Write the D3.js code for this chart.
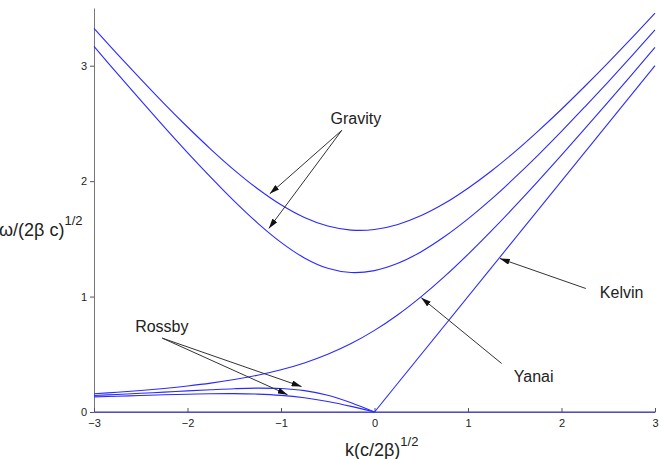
<!DOCTYPE html>
<html>
<head>
<meta charset="utf-8">
<script src="https://cdn.jsdelivr.net/npm/d3@7"></script>
<style>
  body { margin: 0; background: #fff; }
  text { font-family: 'Liberation Sans', Arial, sans-serif; fill: #222; }
</style>
</head>
<body>
<div id="chart"></div>
<script>
// wavenumber samples k(c/2β)^1/2
const kAll = [-3, -2.75, -2.5, -2.25, -2, -1.75, -1.5, -1.25, -1, -0.75, -0.5, -0.25, 0,
  0.25, 0.5, 0.75, 1, 1.25, 1.5, 1.75, 2, 2.25, 2.5, 2.75, 3]
const kWest = [-3, -2.75, -2.5, -2.25, -2, -1.75, -1.5, -1.25, -1, -0.75, -0.5, -0.25, 0]
const kEast = [0, 3]
const kFull = [-3, 3]

// frequency values ω/(2βc)^1/2
const gravity1 = [3.167, 2.931, 2.699, 2.471, 2.248, 2.033, 1.827, 1.637, 1.470, 1.335, 1.245, 1.208, 1.225,
  1.288, 1.389, 1.520, 1.673, 1.844, 2.030, 2.226, 2.431, 2.644, 2.861, 3.084, 3.310]
const gravity2 = [3.324, 3.101, 2.884, 2.672, 2.469, 2.276, 2.096, 1.934, 1.795, 1.685, 1.611, 1.576, 1.581,
  1.625, 1.702, 1.808, 1.939, 2.088, 2.254, 2.434, 2.623, 2.822, 3.027, 3.238, 3.455]
const yanai = [0.158, 0.171, 0.186, 0.204, 0.225, 0.250, 0.281, 0.319, 0.366, 0.425, 0.500, 0.593, 0.707,
  0.843, 1.000, 1.175, 1.366, 1.569, 1.781, 2.000, 2.225, 2.454, 2.686, 2.921, 3.158]
const rossby1 = [0.143, 0.152, 0.162, 0.172, 0.183, 0.193, 0.202, 0.207, 0.203, 0.185, 0.145, 0.080, 0]
const rossby2 = [0.131, 0.137, 0.143, 0.149, 0.154, 0.158, 0.159, 0.155, 0.144, 0.123, 0.091, 0.049, 0]
const kelvin = [0, 3]
const zeroLine = [0, 0]

const xTicks = [-3, -2, -1, 0, 1, 2, 3]
const yTicks = [0, 1, 2, 3]

// annotations: label position and arrow tail/heads in data units
const notes = [
  { text: 'Gravity', x: -0.2, y: 2.495, anchor: 'middle', tail: [-0.35, 2.44], heads: [[-1.12, 1.89], [-1.13, 1.59]] },
  { text: 'Kelvin', x: 2.41, y: 0.99, anchor: 'start', tail: [2.26, 1.07], heads: [[1.34, 1.33]] },
  { text: 'Yanai', x: 1.49, y: 0.26, anchor: 'start', tail: [1.36, 0.42], heads: [[0.50, 0.99]] },
  { text: 'Rossby', x: -2.56, y: 0.69, anchor: 'start', tail: [-2.27, 0.64], heads: [[-0.78, 0.22], [-0.93, 0.15]] }
]

const width = 661
const height = 459
const margin = { top: 8, right: 6, bottom: 47, left: 94 }

const svg = d3.select('#chart')
  .append('svg')
  .attr('width', width)
  .attr('height', height)

const x = d3.scaleLinear().domain([-3, 3]).range([margin.left, width - margin.right])
const y = d3.scaleLinear().domain([0, 3.5]).range([height - margin.bottom, margin.top])

// axes
const yAxis = svg.append('g')
  .attr('transform', `translate(${margin.left},0)`)
  .call(d3.axisLeft(y).tickValues(yTicks).tickFormat(d3.format('d')).tickSizeInner(4).tickSizeOuter(0).tickPadding(3))
yAxis.select('.domain').attr('stroke', '#777')
yAxis.selectAll('.tick line').attr('stroke', '#555')
yAxis.selectAll('.tick text').style('font-size', '11px').attr('fill', '#222')

const xAxis = svg.append('g')
  .attr('transform', `translate(0,${y(0)})`)
  .call(d3.axisBottom(x).tickValues(xTicks).tickFormat(d => d < 0 ? '\u2212' + Math.abs(d) : d).tickSizeInner(-4).tickSizeOuter(0).tickPadding(7))
xAxis.select('.domain').attr('stroke', '#777')
xAxis.selectAll('.tick line').attr('stroke', '#555')
xAxis.selectAll('.tick text').style('font-size', '11px').attr('fill', '#222')

// curves
const line = d3.line()
  .x(d => x(d[0]))
  .y(d => y(d[1]))
  .curve(d3.curveCatmullRom)

const series = [
  [kAll, gravity1],
  [kAll, gravity2],
  [kAll, yanai],
  [kWest, rossby1],
  [kWest, rossby2],
  [kEast, kelvin],
  [kFull, zeroLine]
]

series.forEach(s => {
  svg.append('path')
    .datum(d3.zip(s[0], s[1]))
    .attr('fill', 'none')
    .attr('stroke', '#2a2aff')
    .attr('stroke-width', 1.1)
    .attr('d', line)
})

// arrows
svg.append('defs').append('marker')
  .attr('id', 'head')
  .attr('viewBox', '0 0 10 6')
  .attr('refX', 10)
  .attr('refY', 3)
  .attr('markerWidth', 10)
  .attr('markerHeight', 6)
  .attr('markerUnits', 'userSpaceOnUse')
  .attr('orient', 'auto')
  .append('path')
  .attr('d', 'M0,0 L10,3 L0,6 Z')
  .attr('fill', '#111')

notes.forEach(n => {
  n.heads.forEach(h => {
    svg.append('line')
      .attr('x1', x(n.tail[0]))
      .attr('y1', y(n.tail[1]))
      .attr('x2', x(h[0]))
      .attr('y2', y(h[1]))
      .attr('stroke', '#333')
      .attr('stroke-width', 1)
      .attr('marker-end', 'url(#head)')
  })
  svg.append('text')
    .attr('x', x(n.x))
    .attr('y', y(n.y))
    .attr('text-anchor', n.anchor)
    .style('font-size', '16px')
    .text(n.text)
})

// axis titles
const xt = svg.append('text')
  .attr('x', 345)
  .attr('y', 456)
  .style('font-size', '18px')
xt.append('tspan').text('k(c/2\u03b2)')
xt.append('tspan').attr('dy', -10).style('font-size', '13px').text('1/2')

const yt = svg.append('text')
  .attr('x', -1)
  .attr('y', 236)
  .style('font-size', '18px')
yt.append('tspan').text('\u03c9/(2\u03b2 c)')
yt.append('tspan').attr('dy', -11).style('font-size', '13px').text('1/2')
</script>
</body>
</html>
